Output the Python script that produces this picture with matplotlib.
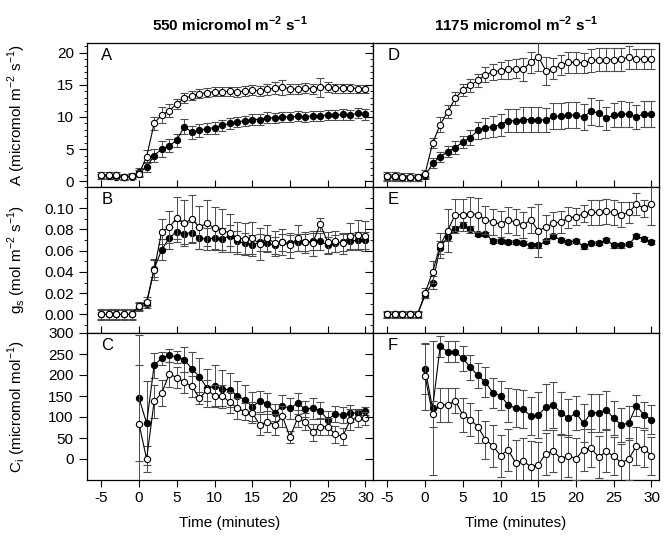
import matplotlib
matplotlib.use("Agg")
import matplotlib.pyplot as plt
from matplotlib.ticker import MultipleLocator, FixedLocator

plt.rcParams['font.family'] = ['Liberation Sans', 'DejaVu Sans']
plt.rcParams['mathtext.fontset'] = 'custom'
plt.rcParams['mathtext.rm'] = 'Liberation Sans'
plt.rcParams['mathtext.bf'] = 'Liberation Sans:bold'
plt.rcParams['axes.unicode_minus'] = False

# time axes (minutes)
time = list(range(-5, 31))
time_ci = list(range(0, 31))

# ---- net assimilation A, 550 (left) ----
a550_open = [0.9, 1.0, 0.9, 0.7, 0.8, 1.2, 3.8, 9.0, 10.3, 11.0, 12.0, 12.9, 13.3, 13.6, 13.8, 13.9,
             13.9, 14.0, 13.9, 14.0, 14.2, 14.0, 14.3, 14.5, 14.6, 14.4, 14.3, 14.5, 14.4, 14.6, 14.7,
             14.5, 14.5, 14.5, 14.4, 14.4]
a550_open_err = [0.5, 0.5, 0.5, 0.5, 0.5, 0.5, 1.0, 1.0, 1.2, 1.0, 0.8, 0.8, 0.7, 0.7, 0.7, 0.7,
                 0.7, 0.7, 0.8, 0.8, 0.8, 0.8, 0.9, 0.9, 1.2, 0.8, 0.8, 0.8, 0.8, 1.5, 0.8,
                 0.7, 0.7, 0.7, 0.6, 0.6]
a550_fill = [0.8, 0.8, 0.7, 0.6, 0.7, 1.4, 2.2, 4.0, 5.0, 5.5, 6.4, 8.5, 7.6, 7.9, 8.2, 8.3,
             8.7, 9.0, 9.2, 9.4, 9.6, 9.6, 9.9, 9.8, 10.0, 10.0, 10.1, 10.0, 10.2, 10.2, 10.3,
             10.3, 10.4, 10.3, 10.6, 10.4]
a550_fill_err = [0.4, 0.4, 0.4, 0.4, 0.4, 0.6, 0.8, 1.0, 1.2, 1.0, 1.0, 1.2, 1.0, 1.0, 0.9, 0.9,
                 0.9, 0.8, 0.8, 0.8, 0.8, 0.8, 0.8, 0.8, 0.8, 0.8, 0.8, 0.8, 0.8, 0.8, 0.8,
                 0.8, 0.8, 0.8, 0.8, 0.8]

# ---- net assimilation A, 1175 (right) ----
a1175_open = [0.8, 0.8, 0.7, 0.7, 0.6, 1.2, 5.9, 8.8, 10.8, 12.9, 14.2, 14.9, 15.7, 16.6, 17.0, 17.2,
              17.4, 17.5, 17.4, 18.5, 19.4, 17.2, 17.5, 18.1, 18.5, 18.5, 18.4, 18.8, 18.9, 18.9, 18.9,
              19.0, 19.3, 19.0, 19.0, 19.0]
a1175_open_err = [0.6, 0.6, 0.6, 0.6, 0.6, 0.6, 0.8, 1.2, 1.0, 1.0, 1.0, 1.0, 1.0, 1.2, 1.2, 1.3,
                  1.5, 1.5, 1.8, 1.6, 2.2, 2.2, 1.6, 1.6, 1.6, 1.6, 1.6, 1.8, 1.8, 1.8, 1.8,
                  1.8, 1.8, 1.6, 1.6, 1.6]
a1175_fill = [0.6, 0.6, 0.5, 0.5, 0.5, 0.8, 2.8, 3.8, 4.6, 5.2, 6.1, 6.8, 7.9, 8.3, 8.5, 8.8,
              9.4, 9.4, 9.6, 9.6, 9.6, 9.5, 10.1, 10.1, 10.3, 10.3, 10.0, 10.9, 10.6, 9.8, 10.3,
              10.5, 10.4, 10.0, 10.5, 10.5]
a1175_fill_err = [0.5, 0.5, 0.5, 0.5, 0.5, 0.5, 0.8, 0.8, 0.9, 1.0, 1.0, 1.2, 1.3, 1.5, 1.6, 1.7,
                  1.8, 1.8, 1.9, 1.9, 1.9, 1.9, 2.0, 2.0, 2.0, 2.0, 2.0, 2.1, 2.0, 1.8, 1.9,
                  2.0, 2.0, 1.9, 2.0, 2.0]

# ---- stomatal conductance gs ----
gs550_open = [0.000, 0.000, 0.000, 0.000, 0.000, 0.008, 0.012, 0.042, 0.078, 0.082, 0.091, 0.086,
              0.090, 0.082, 0.086, 0.081, 0.079, 0.077, 0.072, 0.071, 0.072, 0.066, 0.072, 0.067,
              0.068, 0.065, 0.072, 0.068, 0.067, 0.085, 0.068, 0.069, 0.067, 0.074, 0.075, 0.074]
gs550_open_err = [0.005, 0.005, 0.005, 0.005, 0.005, 0.004, 0.004, 0.010, 0.012, 0.015, 0.020, 0.022,
                  0.022, 0.020, 0.022, 0.020, 0.020, 0.018, 0.015, 0.015, 0.015, 0.015, 0.012, 0.012,
                  0.012, 0.012, 0.012, 0.010, 0.012, 0.006, 0.010, 0.010, 0.010, 0.012, 0.014, 0.014]
gs550_fill = [0.000, 0.000, 0.000, 0.000, 0.000, 0.007, 0.010, 0.043, 0.061, 0.072, 0.078, 0.076,
              0.077, 0.072, 0.071, 0.072, 0.071, 0.074, 0.069, 0.067, 0.065, 0.068, 0.067, 0.065,
              0.068, 0.067, 0.068, 0.068, 0.069, 0.069, 0.065, 0.067, 0.068, 0.069, 0.070, 0.070]
gs550_fill_err = [0.004, 0.004, 0.004, 0.004, 0.004, 0.004, 0.004, 0.008, 0.010, 0.010, 0.010, 0.010,
                  0.010, 0.010, 0.010, 0.010, 0.010, 0.010, 0.010, 0.010, 0.010, 0.008, 0.008, 0.008,
                  0.008, 0.008, 0.008, 0.008, 0.008, 0.008, 0.008, 0.008, 0.008, 0.008, 0.008, 0.008]

gs1175_open = [0.000, 0.000, 0.000, 0.000, 0.000, 0.020, 0.040, 0.065, 0.079, 0.094, 0.094, 0.095,
               0.094, 0.089, 0.087, 0.085, 0.089, 0.087, 0.084, 0.089, 0.079, 0.082, 0.086, 0.087,
               0.091, 0.092, 0.095, 0.096, 0.096, 0.097, 0.096, 0.094, 0.096, 0.104, 0.100, 0.104]
gs1175_open_err = [0.003, 0.003, 0.003, 0.003, 0.003, 0.005, 0.010, 0.012, 0.020, 0.015, 0.015, 0.016,
                   0.016, 0.013, 0.012, 0.012, 0.012, 0.012, 0.012, 0.012, 0.025, 0.012, 0.010, 0.010,
                   0.010, 0.008, 0.008, 0.012, 0.012, 0.012, 0.012, 0.012, 0.010, 0.010, 0.008, 0.020]
gs1175_fill = [0.000, 0.000, 0.000, 0.000, 0.000, 0.018, 0.030, 0.063, 0.073, 0.080, 0.084, 0.080,
               0.076, 0.076, 0.069, 0.069, 0.068, 0.068, 0.067, 0.065, 0.065, 0.069, 0.074, 0.070,
               0.068, 0.069, 0.064, 0.067, 0.067, 0.070, 0.065, 0.065, 0.066, 0.074, 0.071, 0.068]
gs1175_fill_err = [0.002, 0.002, 0.002, 0.002, 0.002, 0.003, 0.006, 0.006, 0.004, 0.003, 0.003, 0.003,
                   0.002, 0.002, 0.002, 0.002, 0.002, 0.002, 0.002, 0.002, 0.002, 0.002, 0.002, 0.002,
                   0.002, 0.002, 0.002, 0.002, 0.002, 0.002, 0.002, 0.002, 0.002, 0.002, 0.002, 0.002]

# ---- intercellular CO2 Ci ----
ci550_open = [83, 0, 137, 157, 202, 194, 183, 173, 145, 164, 151, 151, 135, 121, 113, 110,
              81, 89, 81, 102, 52, 97, 89, 64, 77, 77, 59, 54, 94, 97, 97]
ci550_open_err = [140, 30, 40, 30, 30, 25, 25, 25, 15, 25, 25, 25, 25, 25, 20, 25,
                  25, 25, 25, 25, 15, 20, 20, 20, 20, 20, 20, 20, 25, 20, 15]
ci550_fill = [145, 85, 223, 240, 247, 243, 236, 215, 196, 169, 173, 167, 164, 151, 141, 125,
              137, 131, 110, 127, 121, 133, 119, 121, 115, 94, 107, 105, 109, 110, 115]
ci550_fill_err = [150, 100, 30, 15, 15, 15, 30, 40, 45, 45, 50, 45, 40, 35, 35, 35,
                  25, 25, 20, 25, 25, 25, 20, 25, 20, 20, 20, 20, 20, 10, 10]

ci1175_open = [197, 107, 129, 129, 139, 105, 94, 77, 46, 31, 8, 22, -9, -5, -18, -14,
               13, 19, 1, 8, 1, 22, 26, 4, 18, 7, -9, 0, 31, 25, 8]
ci1175_open_err = [80, 30, 40, 40, 30, 40, 40, 40, 45, 50, 50, 50, 55, 55, 60, 55,
                   50, 50, 55, 50, 50, 50, 45, 50, 50, 45, 45, 50, 45, 45, 45]
ci1175_fill = [215, 121, 268, 255, 255, 240, 218, 199, 183, 157, 151, 129, 121, 119, 102, 105,
               123, 129, 110, 97, 110, 85, 110, 110, 117, 97, 81, 86, 127, 105, 94]
ci1175_fill_err = [60, 160, 25, 25, 25, 30, 30, 30, 35, 35, 35, 40, 45, 45, 45, 55,
                   55, 55, 50, 45, 40, 45, 45, 45, 45, 40, 40, 40, 25, 30, 35]

titles = ["550 micromol m$^{\\mathbf{-2}}$ s$^{\\mathbf{-1}}$",
          "1175 micromol m$^{\\mathbf{-2}}$ s$^{\\mathbf{-1}}$"]
ylabels = ["A (micromol m$^{-2}$ s$^{-1}$)",
           "g$_{\\mathrm{s}}$ (mol m$^{-2}$ s$^{-1}$)",
           "C$_{\\mathrm{i}}$ (micromol mol$^{-1}$)"]
letters = [["A", "D"], ["B", "E"], ["C", "F"]]
yticks = [[0, 5, 10, 15, 20],
          [0.00, 0.02, 0.04, 0.06, 0.08, 0.10],
          [0, 50, 100, 150, 200, 250, 300]]
xticks = [-5, 0, 5, 10, 15, 20, 25, 30]

W, H = 664, 538
fig = plt.figure(figsize=(W / 100, H / 100), dpi=100)

col_x = [87, 373]
col_w = 286
row_y = [(43, 187), (187, 333), (333, 480)]

panels = [
    [(time, a550_fill, a550_fill_err, a550_open, a550_open_err),
     (time, a1175_fill, a1175_fill_err, a1175_open, a1175_open_err)],
    [(time, gs550_fill, gs550_fill_err, gs550_open, gs550_open_err),
     (time, gs1175_fill, gs1175_fill_err, gs1175_open, gs1175_open_err)],
    [(time_ci, ci550_fill, ci550_fill_err, ci550_open, ci550_open_err),
     (time_ci, ci1175_fill, ci1175_fill_err, ci1175_open, ci1175_open_err)],
]
ylims = [(-0.9, 21.5), (-0.0175, 0.12), (-50, 300)]
yminor = [1, 0.01, None]
yfmt = ["{:.0f}", "{:.2f}", "{:.0f}"]

eb = dict(color='k', ms=4.5, lw=0.8, elinewidth=0.7, ecolor='0.3',
          capsize=2.6, capthick=0.7, mew=0.8)
fs = 11

for r in range(3):
    top, bot = row_y[r]
    for c in range(2):
        ax = fig.add_axes([col_x[c] / W, 1 - bot / H, col_w / W, (bot - top) / H])
        t, yf, ef, yo, eo = panels[r][c]
        ax.errorbar(t, yf, yerr=ef, fmt='-o', mfc='k', zorder=2, **eb)
        ax.errorbar(t, yo, yerr=eo, fmt='-o', mfc='white', zorder=3, **eb)
        ax.set_xlim(-6.9, 31)
        ax.set_ylim(*ylims[r])
        ax.xaxis.set_major_locator(FixedLocator(xticks))
        ax.yaxis.set_major_locator(FixedLocator(yticks[r]))
        if yminor[r]:
            ax.yaxis.set_minor_locator(MultipleLocator(yminor[r]))
        ax.tick_params(axis='y', which='major', direction='out', length=5.5, width=0.8,
                       labelsize=fs, pad=4)
        ax.tick_params(axis='y', which='minor', direction='out', length=2.5, width=0.6)
        if r < 2:
            ax.tick_params(axis='x', direction='in', length=5, width=0.8, labelbottom=False)
        else:
            ax.tick_params(axis='x', direction='out', length=5, width=0.8, labelsize=fs, pad=3)
            ax.set_xlabel("Time (minutes)", fontsize=fs, labelpad=8)
        if c == 0:
            fmt = yfmt[r]
            ax.yaxis.set_major_formatter(plt.FuncFormatter(lambda v, p, f=fmt: f.format(v)))
        else:
            ax.tick_params(axis='y', labelleft=False)
        for s in ax.spines.values():
            s.set_linewidth(0.9)
        ax.text(0.05, 0.965, letters[r][c], transform=ax.transAxes, ha='left', va='top', fontsize=12)
        if r == 0:
            ax.set_title(titles[c], fontsize=11, fontweight='bold', pad=9)
    fig.text(17 / W, 1 - (top + bot) / 2 / H, ylabels[r], rotation=90, ha='center', va='center', fontsize=fs)

fig.savefig("out.png", dpi=100)
